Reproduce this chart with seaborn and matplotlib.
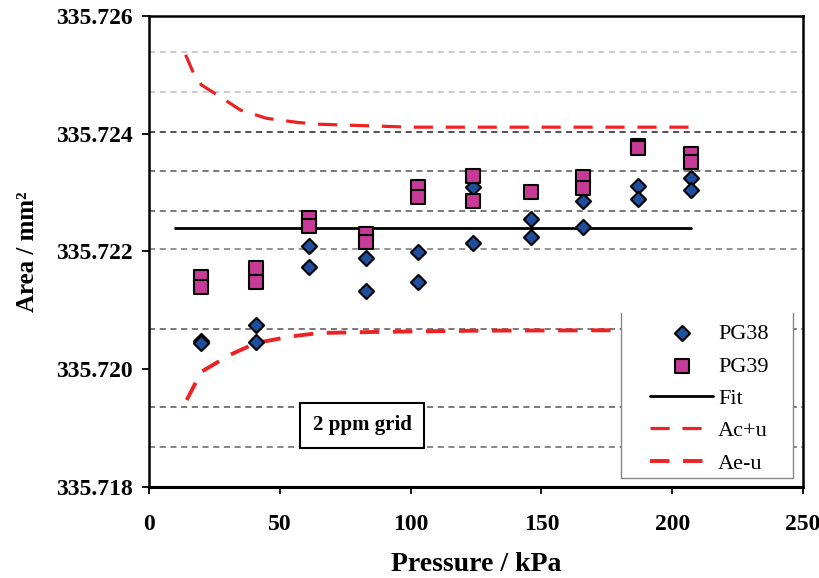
import matplotlib
matplotlib.use("Agg")
import matplotlib.pyplot as plt
import seaborn as sns
import numpy as np
import pandas as pd
from matplotlib.ticker import FixedLocator, FormatStrFormatter
from matplotlib.patches import Rectangle

# ---------------- data ----------------
pressure_pg38 = [20, 20, 41, 41, 61, 61, 83, 83, 103, 103,
                 124, 124, 146, 146, 166, 166, 187, 187, 207, 207]
area_pg38 = [335.72047, 335.72044, 335.72075, 335.72046, 335.72209, 335.72174,
             335.72189, 335.72132, 335.72198, 335.72147, 335.72309, 335.72214,
             335.72255, 335.72225, 335.72285, 335.72242, 335.72311, 335.72289,
             335.72324, 335.72305]

pressure_pg39 = [20, 20, 41, 41, 61, 61, 83, 83, 103, 103,
                 124, 124, 146, 166, 166, 187, 187, 207, 207]
area_pg39 = [335.72157, 335.72140, 335.72171, 335.72148, 335.72257, 335.72243,
             335.72229, 335.72216, 335.72310, 335.72293, 335.72328, 335.72286,
             335.72300, 335.72327, 335.72308, 335.72379, 335.72375, 335.72365,
             335.72351]

fit_x = [10, 207]
fit_y = [335.7224, 335.7224]

acu_x = [14, 17, 20, 26, 35, 45, 57, 65, 100, 207]
acu_y = [335.72534, 335.72503, 335.72483, 335.72466, 335.72440, 335.72426,
         335.72419, 335.72416, 335.72411, 335.72411]

aeu_x = [14.4, 20, 31, 41, 54, 65, 89, 127, 207]
aeu_y = [335.71947, 335.71995, 335.72024, 335.72044, 335.72055, 335.72061,
         335.72063, 335.72065, 335.72066]

grid_levels = [335.72538, 335.72470, 335.72402, 335.72337, 335.72269,
               335.72204, 335.72068, 335.71935, 335.71867]
grid_colors = ["#bdbdbd", "#bdbdbd", "#222222", "#555555", "#555555",
               "#777777", "#555555", "#555555", "#666666"]

x_ticks = [0, 50, 100, 150, 200, 250]
y_ticks = [335.718, 335.720, 335.722, 335.724, 335.726]

# ---------------- style ----------------
sns.set_theme(style="ticks")
plt.rcParams["font.family"] = ["Liberation Serif", "DejaVu Serif"]
plt.rcParams["text.color"] = "black"
plt.rcParams["axes.labelcolor"] = "black"
plt.rcParams["xtick.color"] = "black"
plt.rcParams["ytick.color"] = "black"

fig = plt.figure(figsize=(8.2, 5.78), dpi=100)
ax = fig.add_axes([0.1817, 0.1583, 0.7976, 0.814])

for lvl, col in zip(grid_levels, grid_colors):
    ax.axhline(lvl, color=col, lw=1.1, ls=(0, (4, 3)), zorder=0.5)

df38 = pd.DataFrame({"Pressure": pressure_pg38, "Area": area_pg38})
df39 = pd.DataFrame({"Pressure": pressure_pg39, "Area": area_pg39})

sns.lineplot(x=acu_x, y=acu_y, ax=ax, color="#ee2222", lw=2.3,
             linestyle=(0, (6, 4)), label="Ac+u", zorder=2)
sns.lineplot(x=aeu_x, y=aeu_y, ax=ax, color="#ee2222", lw=2.8,
             linestyle=(0, (5, 3.5)), label="Ae-u", zorder=2)
sns.lineplot(x=fit_x, y=fit_y, ax=ax, color="black", lw=2.0,
             label="Fit", zorder=3)

sns.scatterplot(data=df38, x="Pressure", y="Area", ax=ax, marker="D",
                s=60, color="#1f4e9e", edgecolor="black", linewidth=1.5,
                label="PG38", zorder=4)
sns.scatterplot(data=df39, x="Pressure", y="Area", ax=ax, marker="s",
                s=95, color="#c73a98", edgecolor="black", linewidth=1.5,
                label="PG39", zorder=5)

ax.set_xlim(0, 250)
ax.set_ylim(335.718, 335.726)
ax.xaxis.set_major_locator(FixedLocator(x_ticks))
ax.yaxis.set_major_locator(FixedLocator(y_ticks))
ax.yaxis.set_major_formatter(FormatStrFormatter("%.3f"))

for name, sp in ax.spines.items():
    sp.set_visible(True)
    sp.set_linewidth(2.2 if name == "bottom" else 1.8)
    sp.set_color("black")

ax.tick_params(axis="x", direction="out", length=5, width=1.3, pad=15,
               labelsize=17, colors="black")
ax.tick_params(axis="y", direction="out", length=5, width=1.3, pad=7,
               labelsize=17, colors="black")
for lab in ax.get_xticklabels() + ax.get_yticklabels():
    lab.set_fontweight("bold")
    lab.set_color("black")

ax.set_xlabel("Pressure / kPa", fontsize=20, fontweight="bold", labelpad=12,
              color="black")
ax.set_ylabel("Area / mm\u00b2", fontsize=18, fontweight="bold", labelpad=12,
              color="black")

ax.text(81.4, 335.71904, "2 ppm grid", fontsize=15, fontweight="bold",
        ha="center", va="center", zorder=6, color="black",
        bbox=dict(boxstyle="square,pad=0.6", fc="white", ec="black", lw=1.5))

# legend panel (white box with grey left/right/bottom border)
lx0, ly0, lw_, lh_ = 0.7217, 0.0181, 0.263, 0.3507
ax.add_patch(Rectangle((lx0, ly0), lw_, lh_, transform=ax.transAxes,
                       facecolor="white", edgecolor="none", zorder=8))
ax.plot([lx0, lx0, lx0 + lw_, lx0 + lw_], [ly0 + lh_, ly0, ly0, ly0 + lh_],
        transform=ax.transAxes, color="#888888", lw=1.0, zorder=8.5)

handles, labels = ax.get_legend_handles_labels()
hmap = dict(zip(labels, handles))
order = ["PG38", "PG39", "Fit", "Ac+u", "Ae-u"]
leg = ax.legend([hmap[k] for k in order], order, loc="upper left",
                bbox_to_anchor=(0.766, 0.346), borderaxespad=0,
                fontsize=16, frameon=False, handlelength=2.84,
                handletextpad=0.22, labelspacing=0.53, borderpad=0)
leg.set_zorder(10)
for t in leg.get_texts():
    t.set_color("black")

fig.savefig("out.png", dpi=100)
